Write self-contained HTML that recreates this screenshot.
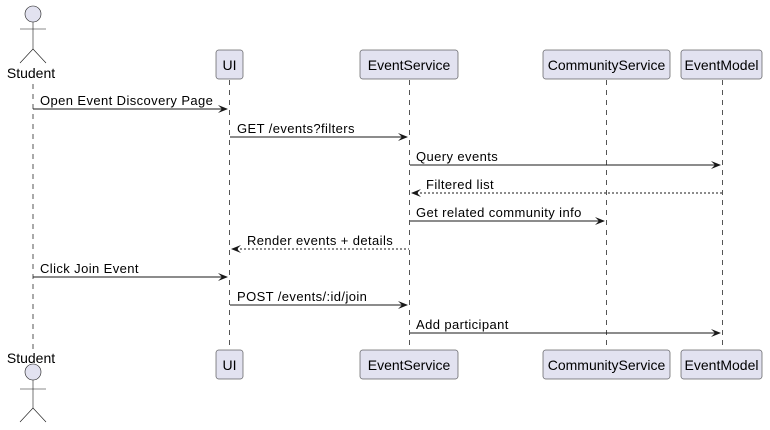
<!DOCTYPE html>
<html><head><meta charset="utf-8"><style>
html,body{margin:0;padding:0;background:#fff;}
svg{display:block;}
text{font-family:"Liberation Sans",sans-serif;fill:#000;}
.m{font-size:13px;letter-spacing:0.4px;}
.p{font-size:14px;}
</style></head><body>
<svg width="770" height="430" viewBox="0 0 770 430" xmlns="http://www.w3.org/2000/svg">
<g stroke="#555" stroke-width="1" stroke-dasharray="5,5" fill="none">
<line x1="33" y1="84" x2="33" y2="349"/>
<line x1="229.5" y1="80" x2="229.5" y2="350"/>
<line x1="409.5" y1="80" x2="409.5" y2="350"/>
<line x1="606.5" y1="80" x2="606.5" y2="350"/>
<line x1="722.5" y1="80" x2="722.5" y2="350"/>
</g>
<g fill="#E2E2F0" stroke="#181818" stroke-width="0.5">
<rect x="216" y="50" width="27" height="29" rx="2.5"/>
<rect x="360" y="50" width="98" height="29" rx="2.5"/>
<rect x="543" y="50" width="127" height="29" rx="2.5"/>
<rect x="681" y="50" width="81" height="29" rx="2.5"/>
<rect x="216" y="350" width="27" height="29" rx="2.5"/>
<rect x="360" y="350" width="98" height="29" rx="2.5"/>
<rect x="543" y="350" width="127" height="29" rx="2.5"/>
<rect x="681" y="350" width="81" height="29" rx="2.5"/>
</g>
<g class="p" text-anchor="middle">
<text x="229.5" y="70">UI</text>
<text x="409" y="70">EventService</text>
<text x="606.5" y="70">CommunityService</text>
<text x="721.5" y="70">EventModel</text>
<text x="229.5" y="370">UI</text>
<text x="409" y="370">EventService</text>
<text x="606.5" y="370">CommunityService</text>
<text x="721.5" y="370">EventModel</text>
<text x="31" y="78">Student</text>
<text x="31" y="363">Student</text>
</g>
<g stroke="#181818" stroke-width="0.6" fill="none">
<circle cx="33" cy="14" r="8" fill="#E2E2F0"/>
<line x1="33" y1="22" x2="33" y2="49"/><line x1="20" y1="29" x2="46" y2="29"/>
<line x1="33" y1="49" x2="20" y2="63"/><line x1="33" y1="49" x2="46" y2="63"/>
<circle cx="33" cy="372" r="8" fill="#E2E2F0"/>
<line x1="33" y1="380" x2="33" y2="408"/><line x1="20" y1="389" x2="46" y2="389"/>
<line x1="33" y1="408" x2="20" y2="422"/><line x1="33" y1="408" x2="46" y2="422"/>
</g>
<g stroke="#181818" stroke-width="1">
<line x1="33" y1="109" x2="227" y2="109"/>
<line x1="230" y1="137" x2="407" y2="137"/>
<line x1="410" y1="165" x2="720" y2="165"/>
<line x1="412" y1="193" x2="722" y2="193" stroke-dasharray="2,2"/>
<line x1="410" y1="221" x2="604" y2="221"/>
<line x1="232" y1="249" x2="409" y2="249" stroke-dasharray="2,2"/>
<line x1="33" y1="277" x2="227" y2="277"/>
<line x1="230" y1="305" x2="407" y2="305"/>
<line x1="410" y1="333" x2="720" y2="333"/>
</g>
<g fill="#181818">
<polygon points="218,105 228,109 218,113 222,109"/>
<polygon points="398,133 408,137 398,141 402,137"/>
<polygon points="711,161 721,165 711,169 715,165"/>
<polygon points="421,189 411,193 421,197 417,193"/>
<polygon points="595,217 605,221 595,225 599,221"/>
<polygon points="241,245 231,249 241,253 237,249"/>
<polygon points="218,273 228,277 218,281 222,277"/>
<polygon points="398,301 408,305 398,309 402,305"/>
<polygon points="711,329 721,333 711,337 715,333"/>
</g>
<g class="m">
<text x="40" y="105">Open Event Discovery Page</text>
<text x="237" y="133">GET /events?filters</text>
<text x="416" y="161">Query events</text>
<text x="426" y="189">Filtered list</text>
<text x="416" y="217">Get related community info</text>
<text x="247" y="245">Render events + details</text>
<text x="40" y="273">Click Join Event</text>
<text x="237" y="301">POST /events/:id/join</text>
<text x="416" y="329">Add participant</text>
</g>
</svg>
</body></html>
